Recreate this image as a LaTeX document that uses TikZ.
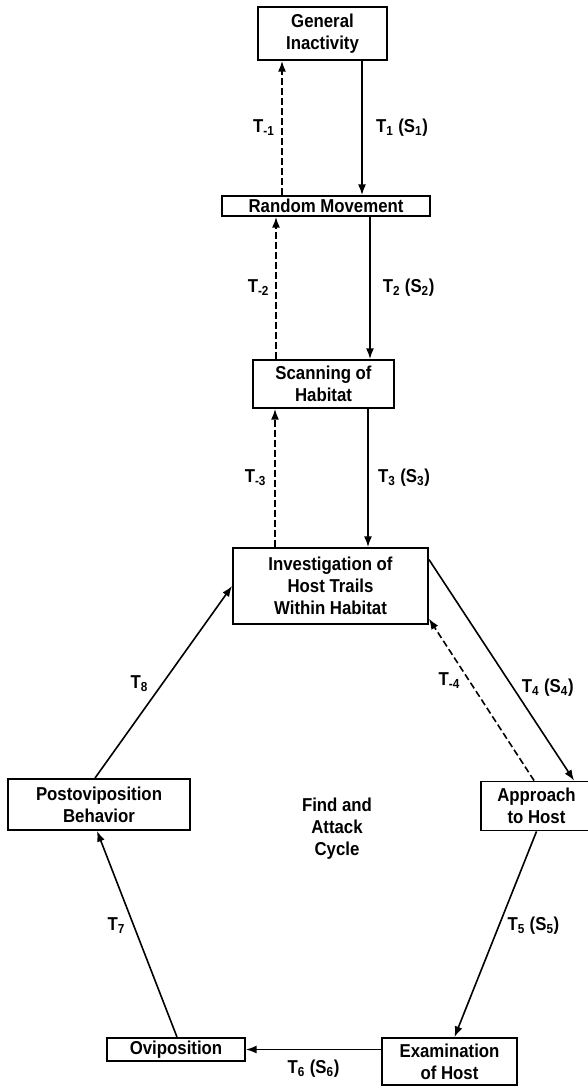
\documentclass[tikz,border=0pt]{standalone}
\usepackage{fontspec}
\setmainfont{Liberation Sans}[FakeStretch=0.9]
\usetikzlibrary{arrows.meta,positioning,calc}

\begin{document}
\begin{tikzpicture}[
  x=0.75pt, y=-0.75pt,
  >={Latex[length=8pt,width=6pt]},
  bnode/.style={draw,line width=1.4pt,align=center,inner sep=0pt,
    font=\fontsize{14}{16.5}\selectfont\bfseries},
  fwd/.style={->,line width=1.2pt},
  bwd/.style={->,line width=1.2pt,dash pattern=on 5pt off 2.5pt},
  lab/.style={inner sep=1pt,font=\fontsize{14}{16}\selectfont\bfseries}
]
\useasboundingbox (0,0) rectangle (587,1087);

% ===================== boxes (pixel grid of the figure) =====================
\node[bnode,minimum width=96.75pt,minimum height=39.75pt] (GI) at (322.5,33.5) {General\\Inactivity};
\node[bnode,minimum width=156pt,minimum height=15pt] (RM) at (326,206) {Random Movement};
\node[bnode,minimum width=105.75pt,minimum height=36pt] (SH) at (323.5,384) {Scanning of\\Habitat};
\node[bnode,minimum width=146.25pt,minimum height=57pt] (IT) at (330.5,586) {Investigation of\\Host Trails\\Within Habitat};
\node[bnode,minimum width=83.25pt,minimum height=36.75pt] (AH) at (536.5,806) {Approach\\to Host};
\node[bnode,minimum width=101.25pt,minimum height=35.25pt] (EH) at (449.5,1061.5) {Examination\\of Host};
\node[bnode,minimum width=103.5pt,minimum height=17.25pt] (OV) at (176,1049.5) {Oviposition};
\node[bnode,minimum width=136.5pt,minimum height=38.25pt] (PB) at (99,804.5) {Postoviposition\\Behavior};

\node[lab,align=center,font=\fontsize{14}{16.5}\selectfont\bfseries] (cyc) at (337,829) {Find and\\Attack\\Cycle};

% ===================== columns of the vertical links =====================
\coordinate (s1) at (362,0);
\coordinate (s2) at (370,0);
\coordinate (s3) at (368,0);
\coordinate (d1) at (282,0);
\coordinate (d2) at (276,0);
\coordinate (d3) at (275,0);

% forward (solid) and backward (dashed) links down the chain
\draw[fwd] (GI.south -| s1) -- node[lab,right=9pt] {T\textsubscript{1} (S\textsubscript{1})} (RM.north -| s1);
\draw[bwd] (RM.north -| d1) -- node[lab,left=4pt] {T\textsubscript{-1}} (GI.south -| d1);

\draw[fwd] (RM.south -| s2) -- node[lab,right=8pt] {T\textsubscript{2} (S\textsubscript{2})} (SH.north -| s2);
\draw[bwd] (SH.north -| d2) -- node[lab,left=3.5pt] {T\textsubscript{-2}} (RM.south -| d2);

\draw[fwd] (SH.south -| s3) -- node[lab,right=6pt] {T\textsubscript{3} (S\textsubscript{3})} (IT.north -| s3);
\draw[bwd] (IT.north -| d3) -- node[lab,left=5pt] {T\textsubscript{-3}} (SH.south -| d3);

% ===================== find and attack cycle =====================
\draw[fwd] ($(IT.north east)!0.16!(IT.south east)$) -- node[lab,pos=0.58,right=5pt] {T\textsubscript{4} (S\textsubscript{4})} ($(AH.north west)+(94,0)$);
\draw[bwd] ($(AH.north west)+(54,0)$) -- node[lab,pos=0.62,left=5pt] {T\textsubscript{-4}} ($(IT.north east)!0.92!(IT.south east)$);

\draw[fwd] (AH.south) -- node[lab,pos=0.46,right=5pt] {T\textsubscript{5} (S\textsubscript{5})} ($(EH.north)+(5,0)$);
\draw[fwd] (EH.west |- OV.east) -- node[lab,below=6pt] {T\textsubscript{6} (S\textsubscript{6})} (OV.east);
\draw[fwd] ($(OV.north)+(1,0)$) -- node[lab,pos=0.54,left=5pt] {T\textsubscript{7}} ($(PB.south)+(-2,0)$);
\draw[fwd] ($(PB.north)+(-4,0)$) -- node[lab,pos=0.49,left=9pt] {T\textsubscript{8}} (IT.west);

\end{tikzpicture}
\end{document}
